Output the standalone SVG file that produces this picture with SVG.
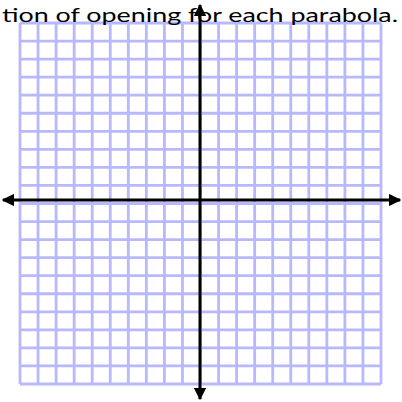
<svg xmlns="http://www.w3.org/2000/svg" width="402" height="402" viewBox="0 0 402 402">
<style>
.grid line{stroke:#b8b8ff;stroke-width:2.8}
.axis{stroke:#000;stroke-width:3}
.t{font-family:Lato,"Open Sans","Liberation Sans",sans-serif;font-size:19.5px;fill:#000}
</style>
<defs>
<marker id="ah" viewBox="0 0 10 10" refX="9" refY="5" markerWidth="4.2" markerHeight="4.2" orient="auto" markerUnits="strokeWidth">
<path d="M0,0 L10,5 L0,10 z" fill="#000"/>
</marker>
</defs>
<rect width="402" height="402" fill="#fff"/>
<g id="grid" class="grid">
<line x1="20" y1="23" x2="20" y2="384"/><line x1="38.05" y1="23" x2="38.05" y2="384"/><line x1="56.1" y1="23" x2="56.1" y2="384"/><line x1="74.15" y1="23" x2="74.15" y2="384"/><line x1="92.2" y1="23" x2="92.2" y2="384"/><line x1="110.25" y1="23" x2="110.25" y2="384"/><line x1="128.3" y1="23" x2="128.3" y2="384"/><line x1="146.35" y1="23" x2="146.35" y2="384"/><line x1="164.4" y1="23" x2="164.4" y2="384"/><line x1="182.45" y1="23" x2="182.45" y2="384"/><line x1="200.5" y1="23" x2="200.5" y2="384"/><line x1="218.55" y1="23" x2="218.55" y2="384"/><line x1="236.6" y1="23" x2="236.6" y2="384"/><line x1="254.65" y1="23" x2="254.65" y2="384"/><line x1="272.7" y1="23" x2="272.7" y2="384"/><line x1="290.75" y1="23" x2="290.75" y2="384"/><line x1="308.8" y1="23" x2="308.8" y2="384"/><line x1="326.85" y1="23" x2="326.85" y2="384"/><line x1="344.9" y1="23" x2="344.9" y2="384"/><line x1="362.95" y1="23" x2="362.95" y2="384"/><line x1="381" y1="23" x2="381" y2="384"/>
<line y1="23" x1="20" y2="23" x2="381"/><line y1="41.05" x1="20" y2="41.05" x2="381"/><line y1="59.1" x1="20" y2="59.1" x2="381"/><line y1="77.15" x1="20" y2="77.15" x2="381"/><line y1="95.2" x1="20" y2="95.2" x2="381"/><line y1="113.25" x1="20" y2="113.25" x2="381"/><line y1="131.3" x1="20" y2="131.3" x2="381"/><line y1="149.35" x1="20" y2="149.35" x2="381"/><line y1="167.4" x1="20" y2="167.4" x2="381"/><line y1="185.45" x1="20" y2="185.45" x2="381"/><line y1="203.5" x1="20" y2="203.5" x2="381"/><line y1="221.55" x1="20" y2="221.55" x2="381"/><line y1="239.6" x1="20" y2="239.6" x2="381"/><line y1="257.65" x1="20" y2="257.65" x2="381"/><line y1="275.7" x1="20" y2="275.7" x2="381"/><line y1="293.75" x1="20" y2="293.75" x2="381"/><line y1="311.8" x1="20" y2="311.8" x2="381"/><line y1="329.85" x1="20" y2="329.85" x2="381"/><line y1="347.9" x1="20" y2="347.9" x2="381"/><line y1="365.95" x1="20" y2="365.95" x2="381"/><line y1="384" x1="20" y2="384" x2="381"/>
</g>
<text class="t" x="2" y="22" textLength="396" lengthAdjust="spacingAndGlyphs">tion of opening for each parabola.</text>
<g id="axes">
<line class="axis" x1="200" y1="200" x2="400" y2="200" marker-end="url(#ah)"/>
<line class="axis" x1="200" y1="200" x2="3" y2="200" marker-end="url(#ah)"/>
<line class="axis" x1="200" y1="200" x2="200" y2="5" marker-end="url(#ah)"/>
<line class="axis" x1="200" y1="200" x2="200" y2="399" marker-end="url(#ah)"/>
</g>
</svg>
